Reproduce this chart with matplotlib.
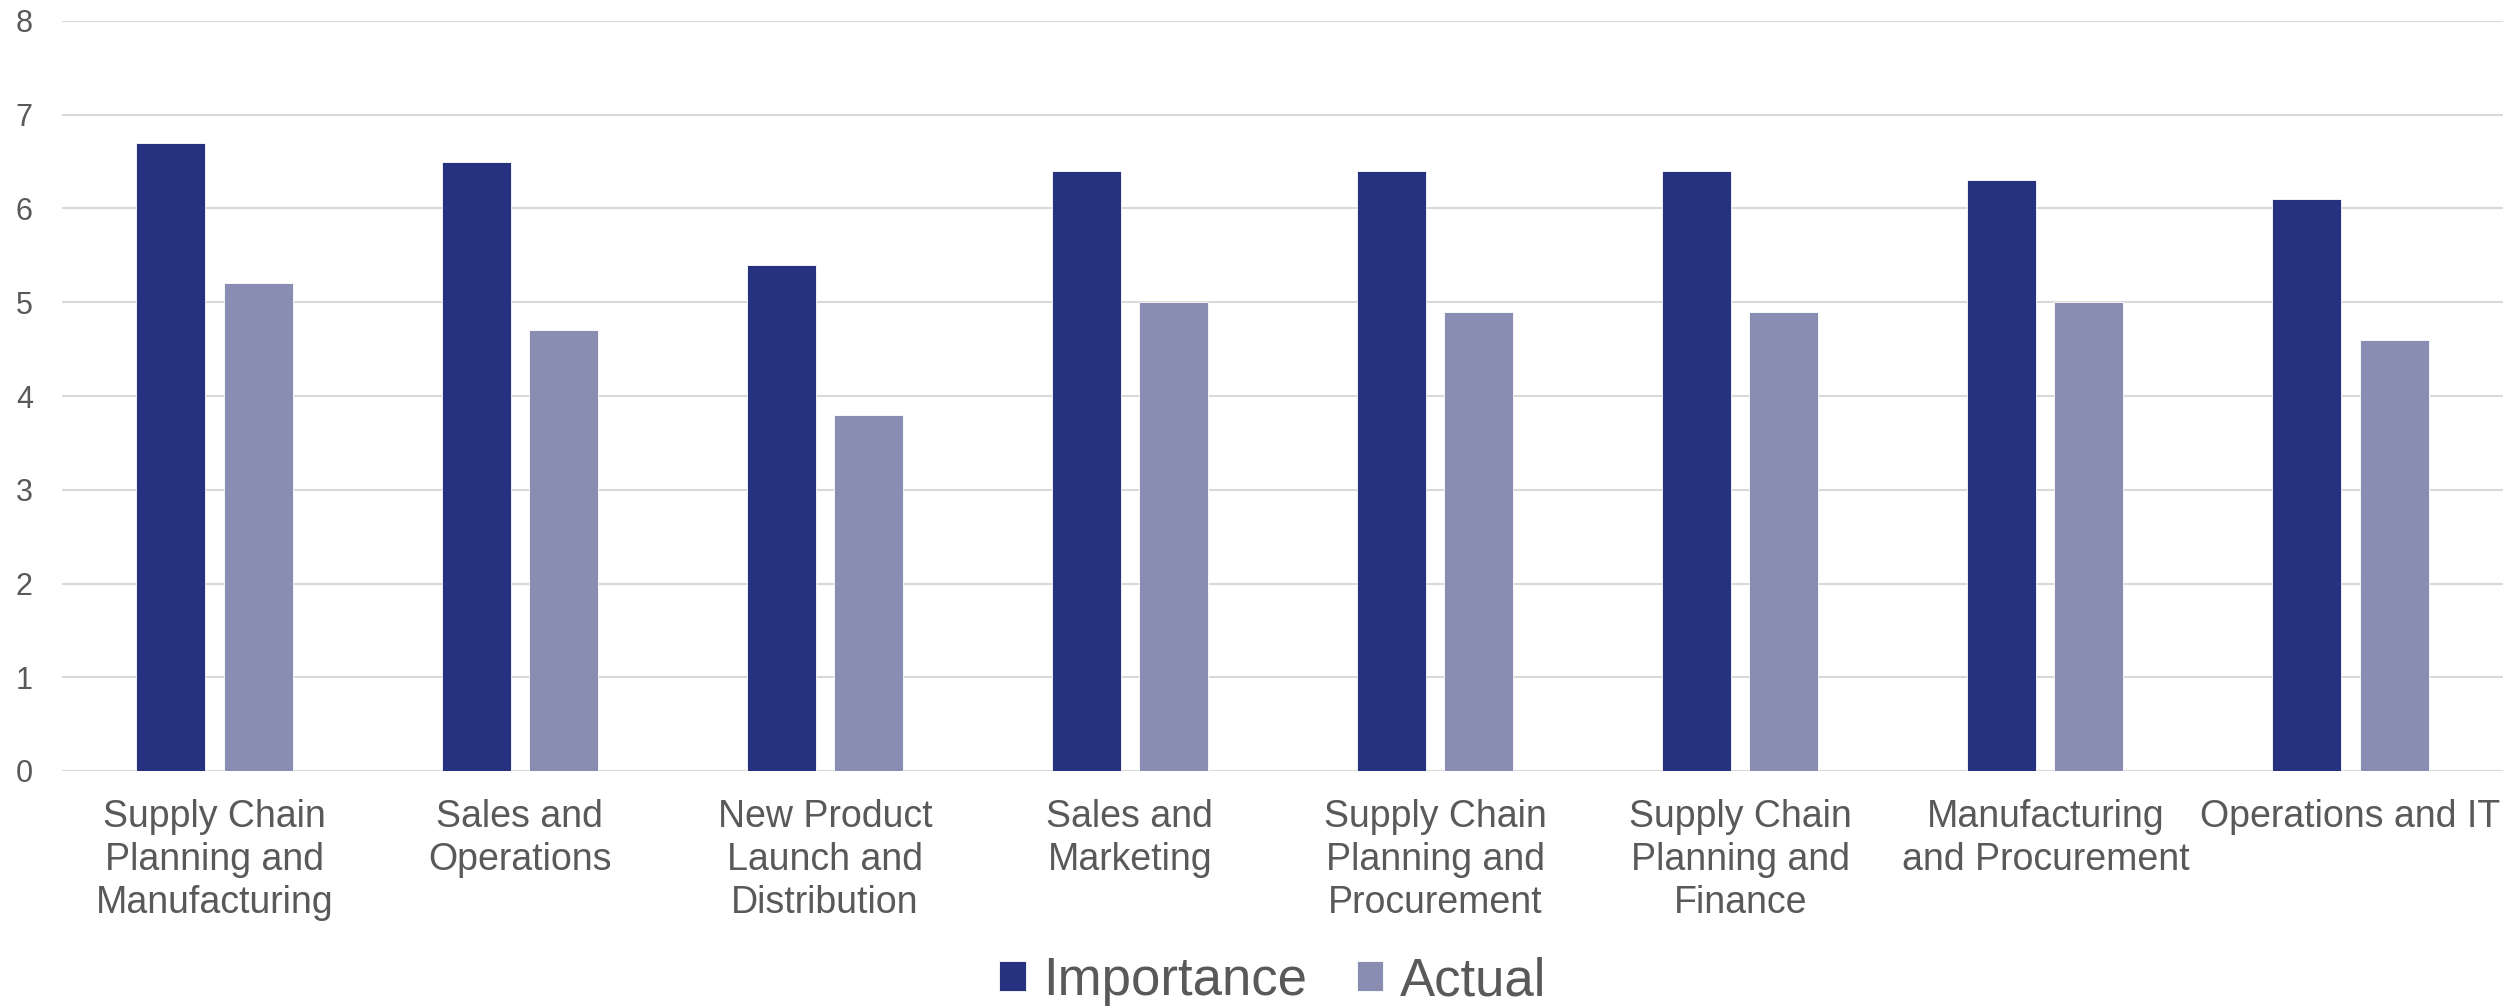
#!/usr/bin/env python3
import matplotlib
matplotlib.use('Agg')
import matplotlib.pyplot as plt
import numpy as np

# Data
categories = [
    'Supply Chain\nPlanning and\nManufacturing',
    'Sales and\nOperations',
    'New Product\nLaunch and\nDistribution',
    'Sales and\nMarketing',
    'Supply Chain\nPlanning and\nProcurement',
    'Supply Chain\nPlanning and\nFinance',
    'Manufacturing\nand Procurement',
    'Operations and IT',
]
importance = [6.7, 6.5, 5.4, 6.4, 6.4, 6.4, 6.3, 6.1]
actual = [5.2, 4.7, 3.8, 5.0, 4.9, 4.9, 5.0, 4.6]
series_names = ['Importance', 'Actual']

dark = '#263180'
light = '#8A8DB2'
text_color = '#595959'
grid_color = '#D9D9D9'

plt.rcParams['font.family'] = ['Liberation Sans', 'DejaVu Sans']

fig = plt.figure(figsize=(25.09, 10.08), dpi=100)
ax = fig.add_axes([62 / 2509, 237 / 1008, (2503 - 62) / 2509, 750 / 1008])

x = np.arange(len(categories))
width = 0.226
offset = 0.143

ax.bar(x - offset, importance, width, color=dark, edgecolor='white',
       linewidth=0.6, label=series_names[0], zorder=3)
ax.bar(x + offset, actual, width, color=light, edgecolor='white',
       linewidth=0.6, label=series_names[1], zorder=3)

ax.set_xlim(-0.5, len(categories) - 0.5)
ax.set_ylim(0, 8)
ax.set_yticks(range(0, 9))
ax.set_xticks(x)
ax.set_xticklabels(categories, linespacing=1.25)

ax.yaxis.grid(True, color=grid_color, linewidth=1.5, zorder=0)
ax.set_axisbelow(True)
for s in ax.spines.values():
    s.set_visible(False)

ax.tick_params(axis='x', length=0, pad=20, labelsize=27, labelcolor=text_color)
ax.tick_params(axis='y', length=0, pad=21, labelsize=22, labelcolor=text_color)

fig.legend(loc='center', bbox_to_anchor=(1273 / 2509, 1 - 981 / 1008),
           ncol=2, frameon=False, fontsize=38, labelcolor=text_color,
           handlelength=0.5, handleheight=0.5, handletextpad=0.32,
           columnspacing=0.95, borderpad=0)

fig.savefig('out.png', dpi=100)
